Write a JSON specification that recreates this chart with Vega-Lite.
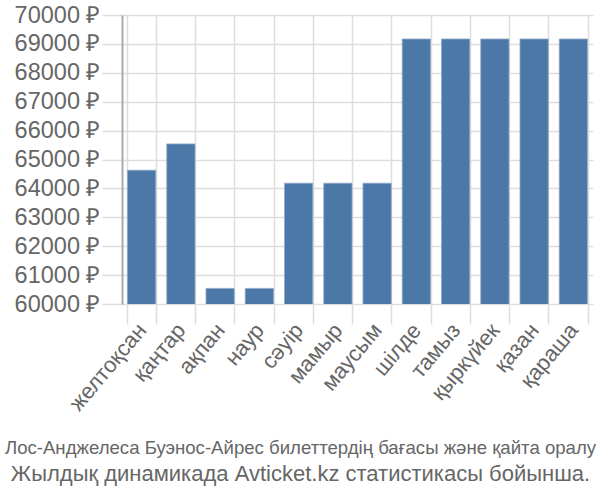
{
  "$schema": "https://vega.github.io/schema/vega-lite/v6.json",
  "width": 471,
  "height": 289,
  "autosize": "none",
  "padding": {"left": 122, "top": 15, "right": 7, "bottom": 196},
  "background": "white",
  "title": {
    "text": "Лос-Анджелеса Буэнос-Айрес билеттердің бағасы және қайта оралу",
    "subtitle": "Жылдық динамикада Avticket.kz статистикасы бойынша.",
    "orient": "bottom",
    "anchor": "middle",
    "frame": "group",
    "offset": 25,
    "font": "Liberation Sans",
    "fontSize": 18.6,
    "fontWeight": "normal",
    "color": "#666666",
    "subtitleFont": "Liberation Sans",
    "subtitleFontSize": 22,
    "subtitleColor": "#666666",
    "subtitlePadding": 6,
    "dx": -57
  },
  "data": {
    "values": [
      {"month": "желтоқсан", "price": 64630},
      {"month": "қаңтар", "price": 65540},
      {"month": "ақпан", "price": 60540},
      {"month": "наур", "price": 60540},
      {"month": "сәуір", "price": 64180},
      {"month": "мамыр", "price": 64180},
      {"month": "маусым", "price": 64180},
      {"month": "шілде", "price": 69170},
      {"month": "тамыз", "price": 69170},
      {"month": "қыркүйек", "price": 69170},
      {"month": "қазан", "price": 69170},
      {"month": "қараша", "price": 69170}
    ]
  },
  "config": {
    "view": {"stroke": null},
    "axis": {
      "labelFont": "Liberation Sans",
      "labelColor": "#666666",
      "gridColor": "#dddddd",
      "gridWidth": 1.5,
      "tickColor": "#dddddd",
      "tickWidth": 1.5,
      "domain": false,
      "title": null
    }
  },
  "mark": {"type": "bar", "color": "#4c78a8", "stroke": "#8fa9c8", "strokeWidth": 0.8, "clip": true},
  "encoding": {
    "x": {
      "field": "month",
      "type": "nominal",
      "sort": null,
      "scale": {"paddingInner": 0.28, "paddingOuter": 0.14},
      "axis": {
        "labelAngle": -50,
        "labelFontSize": 22,
        "labelAlign": "right",
        "labelBaseline": "middle",
        "labelPadding": 2,
        "tickSize": 20,
        "tickBand": "extent",
        "grid": true
      }
    },
    "y": {
      "field": "price",
      "type": "quantitative",
      "scale": {"domain": [60000, 70000], "zero": false, "nice": false},
      "axis": {
        "values": [60000, 61000, 62000, 63000, 64000, 65000, 66000, 67000, 68000, 69000, 70000],
        "labelExpr": "format(datum.value, 'd') + ' ₽'",
        "labelFontSize": 23.5,
        "labelPadding": 2,
        "tickSize": 20,
        "grid": true,
        "domain": true,
        "domainColor": "#aaaaaa",
        "domainWidth": 2
      }
    }
  }
}
